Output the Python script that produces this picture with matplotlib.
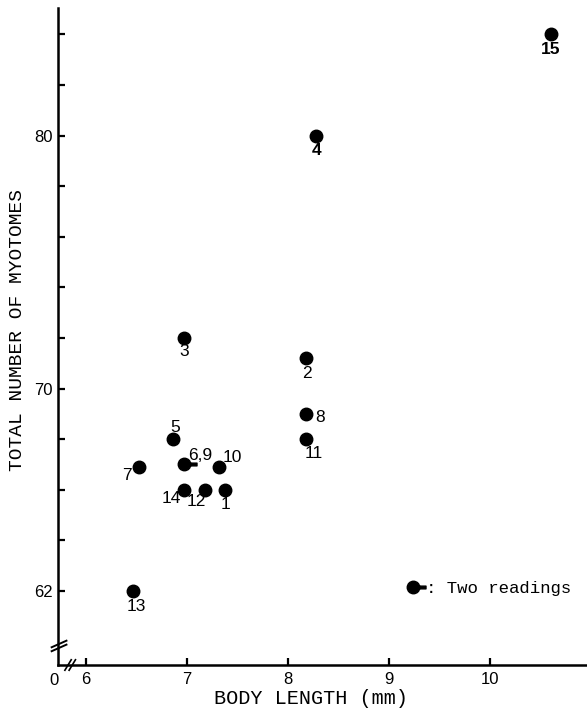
import numpy as np
import matplotlib.pyplot as plt
from matplotlib.path import Path
from matplotlib.lines import Line2D

# specimens: body length (mm) vs total number of myotomes
specimens = ["1", "2", "3", "4", "5", "6,9", "7", "8", "10", "11", "12", "13", "14", "15"]
body_length = [7.38, 8.18, 6.97, 8.28, 6.86, 6.97, 6.52, 8.18, 7.32, 8.18, 7.18, 6.47, 6.97, 10.60]
myotomes = [66.0, 71.2, 72.0, 80.0, 68.0, 67.0, 66.9, 69.0, 66.9, 68.0, 66.0, 62.0, 66.0, 84.0]
two_readings = [False, False, False, False, False, True, False, False, False, False, False, False, False, False]

x_ticks = [6, 7, 8, 9, 10]
y_ticks = np.arange(62, 85, 2)
y_ticklabels = {62: "62", 70: "70", 80: "80"}

# label offsets in pixels (dx, dy), dy positive = up
label_offsets = {
    "1": (0, -15), "2": (1, -15), "3": (0, -14), "4": (0, -15), "5": (2, 12),
    "6,9": (16, 9), "7": (-12, -8), "8": (14, -4), "10": (13, 10), "11": (8, -14),
    "12": (-9, -12), "13": (3, -16), "14": (-13, -9), "15": (0, -15),
}
bold_labels = {"4", "15"}

mono = "Liberation Mono"
sans = "Liberation Sans"

# dot with a short tail -> "two readings"
circ = Path.unit_circle()
tail = Path([(0.8, -0.22), (2.0, -0.22), (2.0, 0.22), (0.8, 0.22), (0.8, -0.22)],
            [Path.MOVETO, Path.LINETO, Path.LINETO, Path.LINETO, Path.CLOSEPOLY])
dot_tail = Path.make_compound_path(circ, tail)

fig = plt.figure(figsize=(5.87, 7.10), dpi=100)
ax = fig.add_axes([58 / 587, 45 / 710, 529 / 587, 657 / 710])

bl = np.array(body_length)
mt = np.array(myotomes)
tr = np.array(two_readings)
ax.plot(bl[~tr], mt[~tr], "o", color="black", markersize=9, ls="none")
ax.plot(bl[tr], mt[tr], marker=dot_tail, color="black", markersize=18, ls="none")

for name, x, y in zip(specimens, body_length, myotomes):
    dx, dy = label_offsets[name]
    ax.annotate(name, (x, y), xytext=(dx, dy), textcoords="offset pixels",
                ha="center", va="center", fontsize=12.5, family=sans,
                fontweight="bold" if name in bold_labels else "normal")

ax.set_xlim(5.723, 10.96)
ax.set_ylim(59.075, 85.04)

for s in ["top", "right"]:
    ax.spines[s].set_visible(False)
for s in ["left", "bottom"]:
    ax.spines[s].set_linewidth(1.8)

ax.set_xticks(x_ticks)
ax.set_xticklabels([str(v) for v in x_ticks], family=sans, fontsize=12)
ax.set_yticks(y_ticks)
ax.set_yticklabels([y_ticklabels.get(int(v), "") for v in y_ticks], family=sans, fontsize=12)
ax.tick_params(axis="both", direction="in", length=5, width=1.6)
ax.tick_params(axis="x", pad=5)
ax.tick_params(axis="y", pad=4)

# axis break marks
for off in (0.0, 0.006):
    ax.plot([-0.012, 0.016], [0.021 + off, 0.031 + off], color="black", lw=1.4,
            transform=ax.transAxes, clip_on=False)
for off in (0.0, 0.008):
    ax.plot([0.013 + off, 0.025 + off], [-0.008, 0.008], color="black", lw=1.2,
            transform=ax.transAxes, clip_on=False)
ax.text(-0.008, -0.012, "0", transform=ax.transAxes, ha="center", va="top",
        family=sans, fontsize=12)

fig.text(18 / 587, 1 - 330 / 710, "TOTAL NUMBER OF MYOTOMES", rotation=90,
         ha="center", va="center", family=mono, fontsize=14)
fig.text(311 / 587, 1 - 698 / 710, "BODY LENGTH (mm)", ha="center", va="center",
         family=mono, fontsize=14.5)

handle = Line2D([], [], marker=dot_tail, color="black", markersize=18, ls="none")
ax.legend([handle], [": Two readings"], loc="center left",
          bbox_to_anchor=((403 - 58) / 529, (665 - 588) / 657), frameon=False,
          handlelength=1.2, handletextpad=0.1, borderpad=0, borderaxespad=0,
          prop={"family": mono, "size": 12.5})

fig.savefig("out.png", dpi=100)
